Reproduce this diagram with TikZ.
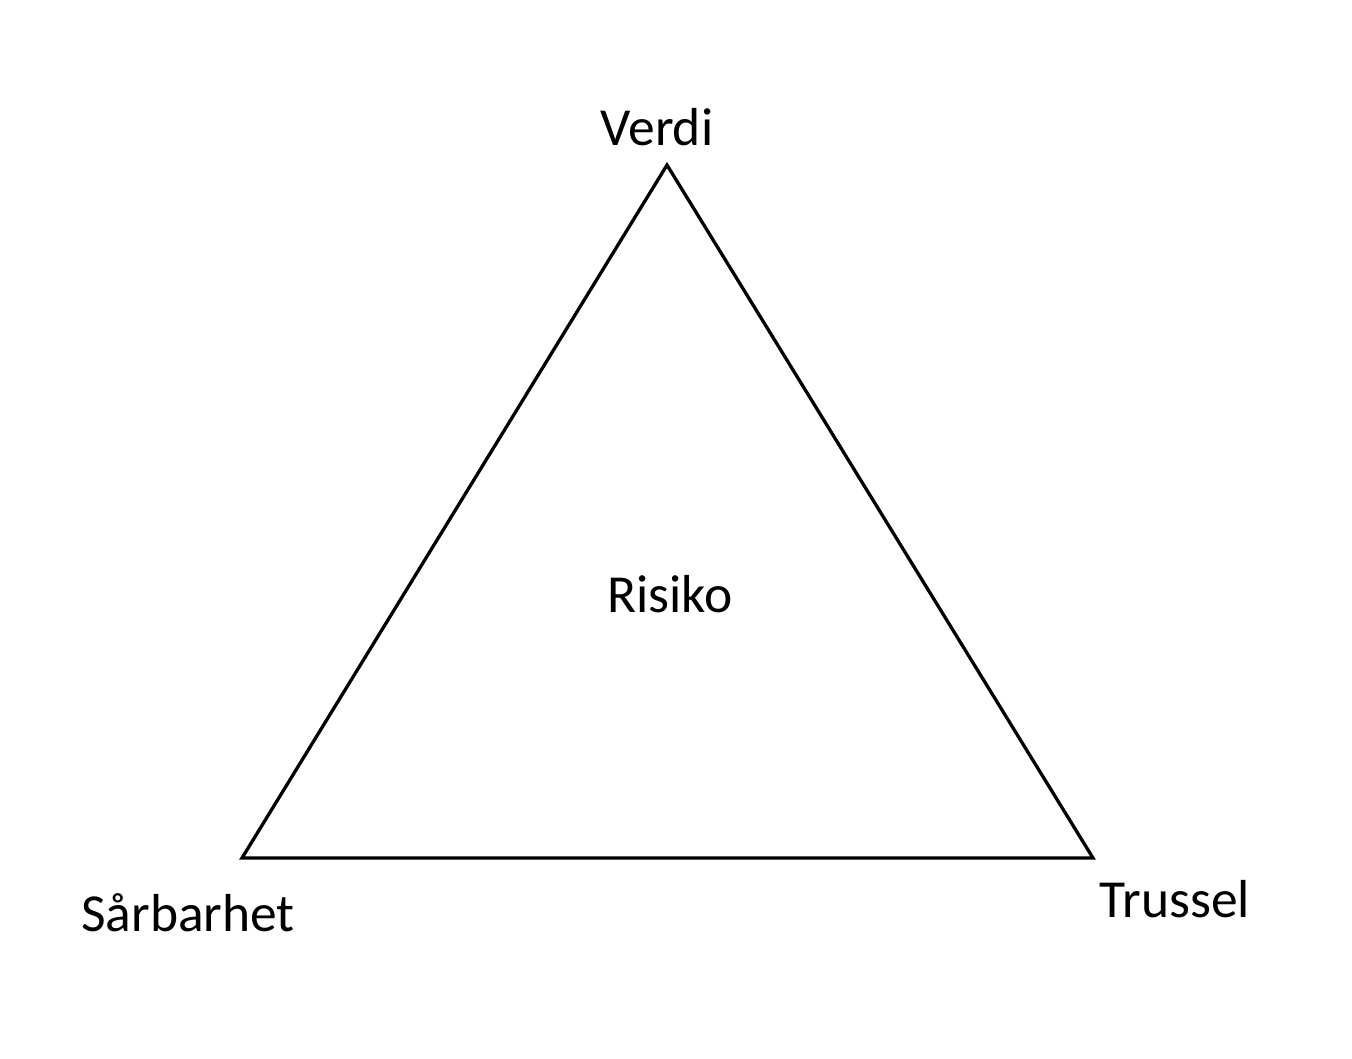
\documentclass[tikz,border=0pt]{standalone}
\usepackage{fontspec}
\setmainfont{Carlito}
\begin{document}
\begin{tikzpicture}[x=1pt,y=-1pt,
  lbl/.style={anchor=base,inner sep=0pt,font=\fontsize{53.5}{60}\selectfont}]
\useasboundingbox (0,0) rectangle (1352,1058);
\coordinate (top) at (667,165);
\coordinate (bl) at (242,858);
\coordinate (br) at (1093,858);
\draw[line width=3.3,line join=miter] (top) -- (br) -- (bl) -- cycle;
\node[lbl] (verdi) at (657,145) {Verdi};
\node[lbl] (risiko) at (670,612) {Risiko};
\node[lbl] (sarbarhet) at (188,931) {Sårbarhet};
\node[lbl] (trussel) at (1175,917) {Trussel};
\end{tikzpicture}
\end{document}
